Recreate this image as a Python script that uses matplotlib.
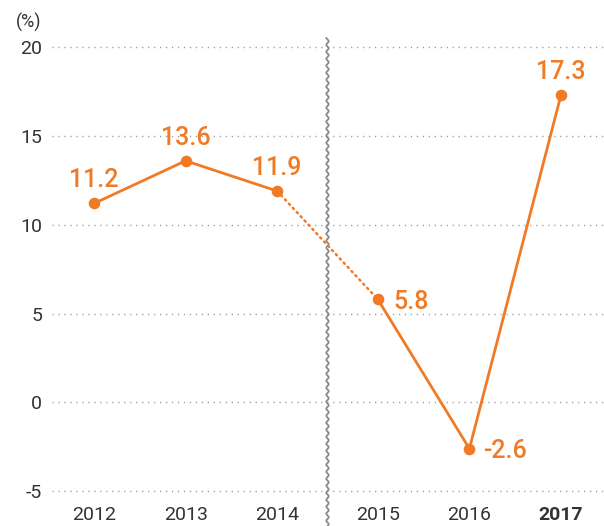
import numpy as np
import matplotlib
matplotlib.use("Agg")
import matplotlib.pyplot as plt
from matplotlib.transforms import blended_transform_factory

# --- data ---
years = ["2012", "2013", "2014", "2015", "2016", "2017"]
growth = [11.2, 13.6, 11.9, 5.8, -2.6, 17.3]
yticks = [-5, 0, 5, 10, 15, 20]

ORANGE = "#F07A26"
INK = "#333333"
GRID = "#9A9A9A"

plt.rcParams["font.family"] = ["Roboto", "DejaVu Sans"]

# series break after 2014: shift later years right by a small gap
gap = 0.1
x = np.arange(len(years)) + np.where(np.arange(len(years)) >= 3, gap, 0)

fig = plt.figure(figsize=(6.04, 5.26), dpi=100)
ax = fig.add_axes([0.086, 0.049, 0.914, 0.875])

ax.set_xlim(-0.46, 5.57)
ax.set_ylim(-5.5, 20.4)
for s in ax.spines.values():
    s.set_visible(False)

for v in yticks:
    ax.axhline(v, color=GRID, linewidth=1.0, linestyle=(0, (0.9, 3.4)), zorder=1)

ax.set_yticks(yticks)
ax.set_yticklabels([str(v) for v in yticks], fontsize=14, color=INK)
ax.set_xticks(x)
ax.set_xticklabels(years, fontsize=14, color=INK)
ax.get_xticklabels()[-1].set_fontweight("bold")
ax.tick_params(axis="both", length=0)
ax.tick_params(axis="x", pad=4)
ax.tick_params(axis="y", pad=7)

# solid segments and dotted bridge across the break
ax.plot(x[:3], growth[:3], color=ORANGE, linewidth=2.0, zorder=3)
ax.plot(x[3:], growth[3:], color=ORANGE, linewidth=2.0, zorder=3)
ax.plot(x[2:4], growth[2:4], color=ORANGE, linewidth=1.8,
        linestyle=(0, (0.6, 1.7)), dash_capstyle="round", zorder=3)
ax.scatter(x, growth, s=70, color=ORANGE, zorder=4, linewidths=0)

# value labels (offset in points, alignment)
offsets = [(0, 11.5, "center"), (0, 11.5, "center"), (0, 11.5, "center"),
           (11, -7, "left"), (10, -6.5, "left"), (0, 11.5, "center")]
for xi, v, (dx, dy, ha) in zip(x, growth, offsets):
    ax.annotate(f"{v:.1f}", (xi, v), xytext=(dx, dy), textcoords="offset points",
                ha=ha, va="baseline", fontsize=18, fontweight="medium",
                color=ORANGE, zorder=5)

# wavy break line between 2014 and 2015
brk = (x[2] + x[3]) / 2
tr = blended_transform_factory(ax.transData, fig.transFigure)
yy = np.linspace(0, 1 - 38 / 526, 1000)
xx = brk + (1.2 / 91.5) * np.sin(yy * 526 / 7.0 * 2 * np.pi)
ax.plot(xx, yy, color="#8A8A8A", linewidth=1.3, transform=tr, clip_on=False, zorder=2)

fig.text(16 / 604, 1 - 22 / 526, "(%)", fontsize=13, color=INK, va="center", ha="left")

fig.savefig("out.png", dpi=100)
